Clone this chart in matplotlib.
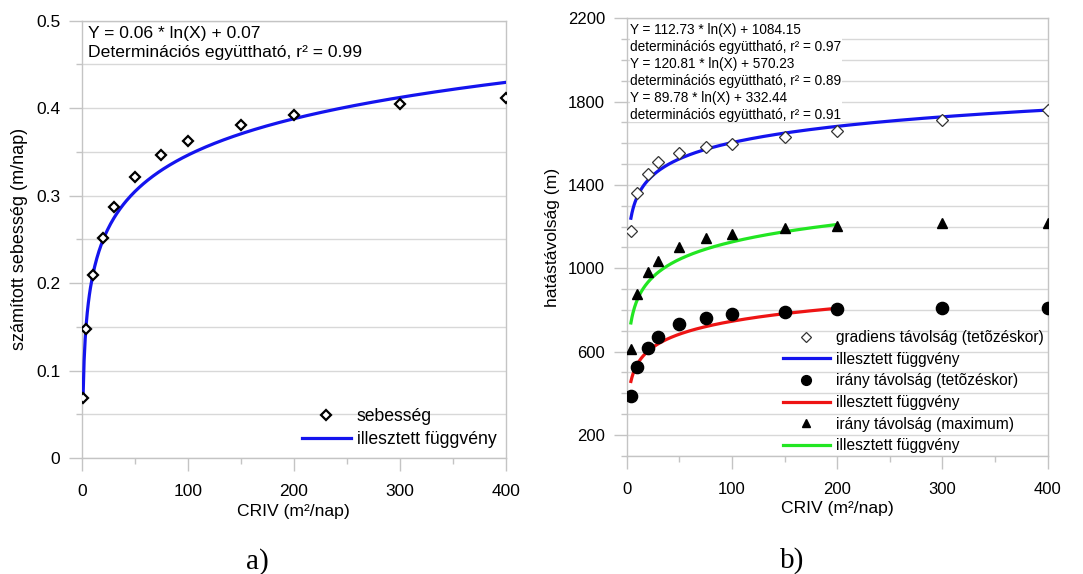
import numpy as np
import matplotlib
matplotlib.use("Agg")
import matplotlib.pyplot as plt
from matplotlib.lines import Line2D
from matplotlib.ticker import MultipleLocator, FixedLocator

plt.rcParams['font.family'] = ['Liberation Sans', 'DejaVu Sans']

# ---------------- data ----------------
# panel a)
a_x = [1, 4, 10, 20, 30, 50, 75, 100, 150, 200, 300, 400]
a_speed = [0.069, 0.148, 0.209, 0.252, 0.287, 0.321, 0.346, 0.362, 0.381, 0.392, 0.405, 0.412]
a_fit = (0.06, 0.07)          # Y = a*ln(X) + b
a_fit_range = (1, 400)

# panel b)
b_x = [4, 10, 20, 30, 50, 75, 100, 150, 200, 300, 400]
b_gradiens = [1179, 1363, 1453, 1509, 1552, 1582, 1597, 1632, 1661, 1710, 1760]
b_irany_tet = [389, 528, 619, 669, 731, 760, 781, 790, 803, 810, 810]
b_irany_max = [611, 877, 984, 1035, 1104, 1145, 1163, 1195, 1205, 1216, 1216]
b_fit_grad = (112.73, 1084.15)
b_fit_max = (120.81, 570.23)
b_fit_tet = (89.78, 332.44)
b_fit_grad_range = (4, 400)
b_fit_max_range = (4, 200)
b_fit_tet_range = (4, 200)

x_ticks = [0, 100, 200, 300, 400]
a_yticks = [0, 0.1, 0.2, 0.3, 0.4, 0.5]
a_yticklabels = ['0', '0.1', '0.2', '0.3', '0.4', '0.5']
b_yticks = [200, 600, 1000, 1400, 1800, 2200]

BLUE = '#1414ee'
RED = '#ee1414'
GREEN = '#22e622'
GRID = '#d8d8d8'
SPINE = '#c4c4c4'


def fit_curve(coef, rng):
    xs = np.linspace(rng[0], rng[1], 400)
    return xs, coef[0] * np.log(xs) + coef[1]


W, H = 1083, 574
fig = plt.figure(figsize=(W / 100, H / 100), dpi=100)


def px_axes(x0, y0, x1, y1):
    return fig.add_axes([x0 / W, 1 - y1 / H, (x1 - x0) / W, (y1 - y0) / H])


def style(ax, fs):
    for s in ax.spines.values():
        s.set_color(SPINE)
        s.set_linewidth(1.0)
    ax.yaxis.grid(True, which='both', color=GRID, linewidth=1.0)
    ax.xaxis.grid(False)
    ax.set_axisbelow(True)
    ax.tick_params(which='major', direction='out', length=9.5, width=1.0,
                   color=SPINE, labelsize=fs, pad=6)
    ax.tick_params(which='minor', direction='out', length=4.5, width=1.0,
                   color=SPINE)
    ax.tick_params(axis='x', which='major', pad=9.5)


# ---------------- panel a ----------------
ax1 = px_axes(82, 20.7, 505.7, 458)
style(ax1, 12.5)
ax1.set_xlim(0, 400)
ax1.set_ylim(0, 0.5)
ax1.xaxis.set_major_locator(FixedLocator(x_ticks))
ax1.xaxis.set_minor_locator(MultipleLocator(50))
ax1.yaxis.set_major_locator(FixedLocator(a_yticks))
ax1.set_yticklabels(a_yticklabels)
ax1.yaxis.set_minor_locator(MultipleLocator(0.05))

fx, fy = fit_curve(a_fit, a_fit_range)
ax1.plot(fx, fy, color=BLUE, lw=2.3, zorder=3)
ax1.plot(a_x, a_speed, linestyle='none', marker='D', markersize=5.2,
         markerfacecolor='white', markeredgecolor='black', markeredgewidth=1.6,
         zorder=4)

ax1.text(0.014, 0.988,
         'Y = 0.06 * ln(X) + 0.07\nDeterminációs együttható, r² = 0.99',
         transform=ax1.transAxes, fontsize=12.6, va='top', ha='left',
         linespacing=1.3)

ax1.set_xlabel('CRIV (m²/nap)', fontsize=12.6, labelpad=3)
ax1.set_ylabel('számított sebesség (m/nap)', fontsize=13, labelpad=6)

h1 = [Line2D([], [], linestyle='none', marker='D', markersize=5.2,
             markerfacecolor='white', markeredgecolor='black', markeredgewidth=1.6),
      Line2D([], [], color=BLUE, lw=2.3)]
fig.legend(h1, ['sebesség', 'illesztett függvény'], loc='upper left',
           bbox_to_anchor=(302 / W, 1 - 408 / H), frameon=False,
           fontsize=12.7, handlelength=2.75, handletextpad=0.35,
           labelspacing=0.36, borderpad=0, borderaxespad=0)

# ---------------- panel b ----------------
ax2 = px_axes(626.7, 18.3, 1047.7, 455.8)
style(ax2, 12)
ax2.set_xlim(0, 400)
ax2.set_ylim(100, 2200)
ax2.xaxis.set_major_locator(FixedLocator(x_ticks))
ax2.xaxis.set_minor_locator(MultipleLocator(50))
ax2.yaxis.set_major_locator(FixedLocator(b_yticks))
ax2.yaxis.set_minor_locator(MultipleLocator(100))

gx, gy = fit_curve(b_fit_grad, b_fit_grad_range)
tx, ty = fit_curve(b_fit_tet, b_fit_tet_range)
mx, my = fit_curve(b_fit_max, b_fit_max_range)
ax2.plot(gx, gy, color=BLUE, lw=2.3, zorder=3)
ax2.plot(tx, ty, color=RED, lw=2.3, zorder=3)
ax2.plot(mx, my, color=GREEN, lw=2.3, zorder=3)

ax2.plot(b_x, b_gradiens, linestyle='none', marker='D', markersize=6,
         markerfacecolor='white', markeredgecolor='#333333', markeredgewidth=0.9,
         zorder=4)
ax2.plot(b_x, b_irany_tet, linestyle='none', marker='o', markersize=8.8,
         color='black', zorder=4)
ax2.plot(b_x, b_irany_max, linestyle='none', marker='^', markersize=7.2,
         color='black', zorder=4)

ax2.text(0.009, 0.99,
         'Y = 112.73 * ln(X) + 1084.15\n'
         'determinációs együttható, r² = 0.97\n'
         'Y = 120.81 * ln(X) + 570.23\n'
         'determinációs együttható, r² = 0.89\n'
         'Y = 89.78 * ln(X) + 332.44\n'
         'determinációs együttható, r² = 0.91',
         transform=ax2.transAxes, fontsize=9.8, va='top', ha='left',
         linespacing=1.27,
         bbox=dict(facecolor='white', edgecolor='none', pad=0.5))

ax2.set_xlabel('CRIV (m²/nap)', fontsize=12.6, labelpad=3)
ax2.set_ylabel('hatástávolság (m)', fontsize=12.6, labelpad=6)

ms = 0.8
h2 = [Line2D([], [], linestyle='none', marker='D', markersize=6 * ms,
             markerfacecolor='white', markeredgecolor='#333333', markeredgewidth=0.9),
      Line2D([], [], color=BLUE, lw=2.3),
      Line2D([], [], linestyle='none', marker='o', markersize=8.8 * ms, color='black'),
      Line2D([], [], color=RED, lw=2.3),
      Line2D([], [], linestyle='none', marker='^', markersize=7.2 * ms, color='black'),
      Line2D([], [], color=GREEN, lw=2.3)]
l2 = ['gradiens távolság (tetõzéskor)', 'illesztett függvény',
      'irány távolság (tetõzéskor)', 'illesztett függvény',
      'irány távolság (maximum)', 'illesztett függvény']
fig.legend(h2, l2, loc='upper left', bbox_to_anchor=(783 / W, 1 - 330 / H),
           frameon=False, fontsize=11.2, handlelength=3.0, handletextpad=0.42,
           labelspacing=0.43, borderpad=0, borderaxespad=0)

# captions
fig.text(257 / W, 1 - 562 / H, 'a)', fontsize=21, ha='center', va='center',
         family=['Liberation Serif', 'DejaVu Serif'])
fig.text(792 / W, 1 - 561 / H, 'b)', fontsize=21, ha='center', va='center',
         family=['Liberation Serif', 'DejaVu Serif'])

fig.savefig('out.png', dpi=100)
